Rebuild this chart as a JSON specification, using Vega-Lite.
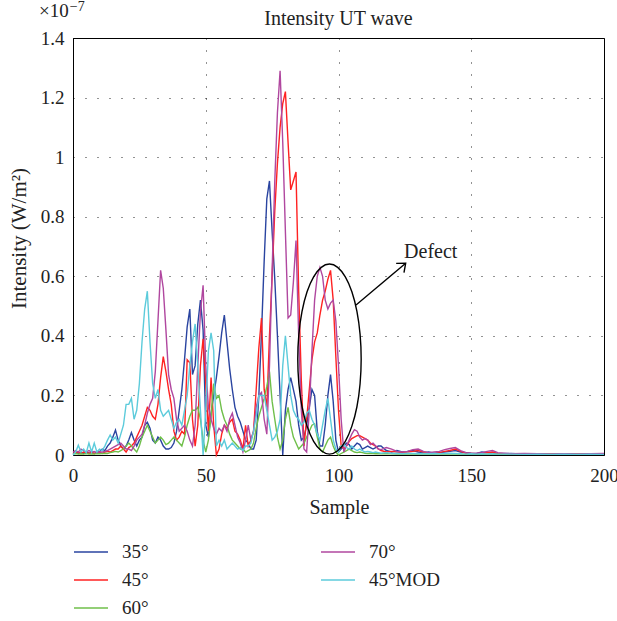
{
"$schema":"https://vega.github.io/schema/vega-lite/v6.json",
"width":531,"height":417,
"autosize":{"type":"none"},
"padding":{"left":73,"top":38,"right":13,"bottom":166},
"background":"white",
"config":{"view":{"stroke":"#000","strokeWidth":1},"font":"Liberation Serif","text":{"font":"Liberation Serif"}},
"title":{"text":"Intensity UT wave","anchor":"middle","frame":"group","offset":0,"dy":45,"baseline":"alphabetic","fontSize":20,"fontWeight":"normal","font":"Liberation Serif","color":"#222"},
"datasets":{
"b":[{"x":0,"y":0.005},{"x":1,"y":0.01},{"x":2,"y":0.005},{"x":3,"y":0.008},{"x":4,"y":0.005},{"x":5,"y":0.01},{"x":6,"y":0.006},{"x":7,"y":0.008},{"x":8,"y":0.005},{"x":9,"y":0.01},{"x":10,"y":0.012},{"x":11,"y":0.02},{"x":12,"y":0.015},{"x":13,"y":0.03},{"x":14,"y":0.04},{"x":15,"y":0.06},{"x":16,"y":0.084},{"x":17,"y":0.05},{"x":18,"y":0.03},{"x":19,"y":0.02},{"x":20,"y":0.03},{"x":21,"y":0.05},{"x":22,"y":0.075},{"x":23,"y":0.05},{"x":24,"y":0.03},{"x":25,"y":0.05},{"x":26,"y":0.06},{"x":27,"y":0.1},{"x":28,"y":0.11},{"x":29,"y":0.09},{"x":30,"y":0.05},{"x":31,"y":0.04},{"x":32,"y":0.06},{"x":33,"y":0.05},{"x":34,"y":0.03},{"x":35,"y":0.02},{"x":36,"y":0.02},{"x":37,"y":0.025},{"x":38,"y":0.04},{"x":39,"y":0.08},{"x":40,"y":0.15},{"x":41,"y":0.22},{"x":42,"y":0.32},{"x":43,"y":0.43},{"x":44,"y":0.49},{"x":45,"y":0.27},{"x":46,"y":0.3},{"x":47,"y":0.44},{"x":48,"y":0.52},{"x":49,"y":0.42},{"x":50,"y":0.1},{"x":51,"y":0.06},{"x":52,"y":0.14},{"x":53,"y":0.2},{"x":54,"y":0.26},{"x":55,"y":0.33},{"x":56,"y":0.41},{"x":57,"y":0.47},{"x":58,"y":0.38},{"x":59,"y":0.29},{"x":60,"y":0.22},{"x":61,"y":0.16},{"x":62,"y":0.13},{"x":63,"y":0.11},{"x":64,"y":0.08},{"x":65,"y":0.05},{"x":66,"y":0.04},{"x":67,"y":0.02},{"x":68,"y":0.02},{"x":69,"y":0.05},{"x":70,"y":0.2},{"x":71,"y":0.41},{"x":72,"y":0.65},{"x":73,"y":0.86},{"x":74,"y":0.92},{"x":75,"y":0.75},{"x":76,"y":0.59},{"x":77,"y":0.4},{"x":78,"y":0.2},{"x":79,"y":0},{"x":80,"y":0.15},{"x":81,"y":0.22},{"x":82,"y":0.26},{"x":83,"y":0.22},{"x":84,"y":0.18},{"x":85,"y":0.1},{"x":86,"y":0.05},{"x":87,"y":0.06},{"x":88,"y":0.1},{"x":89,"y":0.16},{"x":90,"y":0.22},{"x":91,"y":0.2},{"x":92,"y":0.08},{"x":93,"y":0.03},{"x":94,"y":0.03},{"x":95,"y":0.1},{"x":96,"y":0.2},{"x":97,"y":0.27},{"x":98,"y":0.18},{"x":99,"y":0.05},{"x":100,"y":0.01},{"x":101,"y":0.02},{"x":102,"y":0.03},{"x":103,"y":0.04},{"x":104,"y":0.035},{"x":105,"y":0.02},{"x":106,"y":0.03},{"x":107,"y":0.04},{"x":108,"y":0.035},{"x":109,"y":0.02},{"x":110,"y":0.025},{"x":111,"y":0.03},{"x":112,"y":0.025},{"x":113,"y":0.02},{"x":114,"y":0.025},{"x":115,"y":0.03},{"x":116,"y":0.03},{"x":118,"y":0.015},{"x":120,"y":0.01},{"x":122,"y":0.015},{"x":124,"y":0.01},{"x":126,"y":0.012},{"x":128,"y":0.015},{"x":130,"y":0.01},{"x":132,"y":0.008},{"x":134,"y":0.01},{"x":136,"y":0.006},{"x":138,"y":0.008},{"x":140,"y":0.01},{"x":142,"y":0.012},{"x":144,"y":0.015},{"x":146,"y":0.01},{"x":148,"y":0.008},{"x":150,"y":0.006},{"x":152,"y":0.005},{"x":154,"y":0.01},{"x":156,"y":0.008},{"x":158,"y":0.006},{"x":160,"y":0.004},{"x":165,"y":0.005},{"x":170,"y":0.003},{"x":175,"y":0.004},{"x":180,"y":0.003},{"x":185,"y":0.004},{"x":190,"y":0.003},{"x":195,"y":0.004},{"x":200,"y":0.003}],
"r":[{"x":0,"y":0.005},{"x":1,"y":0.01},{"x":2,"y":0.008},{"x":3,"y":0.005},{"x":4,"y":0.01},{"x":5,"y":0.008},{"x":6,"y":0.005},{"x":7,"y":0.01},{"x":8,"y":0.005},{"x":9,"y":0.008},{"x":10,"y":0.01},{"x":11,"y":0.005},{"x":12,"y":0.01},{"x":13,"y":0.012},{"x":14,"y":0.01},{"x":15,"y":0.015},{"x":16,"y":0.02},{"x":17,"y":0.02},{"x":18,"y":0.03},{"x":19,"y":0.02},{"x":20,"y":0.01},{"x":21,"y":0.025},{"x":22,"y":0.03},{"x":23,"y":0.04},{"x":24,"y":0.06},{"x":25,"y":0.08},{"x":26,"y":0.1},{"x":27,"y":0.13},{"x":28,"y":0.16},{"x":29,"y":0.15},{"x":30,"y":0.13},{"x":31,"y":0.12},{"x":32,"y":0.17},{"x":33,"y":0.26},{"x":34,"y":0.33},{"x":35,"y":0.28},{"x":36,"y":0.22},{"x":37,"y":0.17},{"x":38,"y":0.08},{"x":39,"y":0.05},{"x":40,"y":0.06},{"x":41,"y":0.08},{"x":42,"y":0.07},{"x":43,"y":0.32},{"x":44,"y":0.31},{"x":45,"y":0.12},{"x":46,"y":0.03},{"x":47,"y":0.1},{"x":48,"y":0.3},{"x":49,"y":0.39},{"x":50,"y":0.24},{"x":51,"y":0.08},{"x":52,"y":0.26},{"x":53,"y":0.1},{"x":54,"y":0},{"x":55,"y":0.02},{"x":56,"y":0.07},{"x":57,"y":0.1},{"x":58,"y":0.09},{"x":59,"y":0.11},{"x":60,"y":0.12},{"x":61,"y":0.08},{"x":62,"y":0.07},{"x":63,"y":0.05},{"x":64,"y":0.02},{"x":65,"y":0.1},{"x":66,"y":0.03},{"x":67,"y":0.05},{"x":68,"y":0.08},{"x":69,"y":0.22},{"x":70,"y":0.36},{"x":71,"y":0.46},{"x":72,"y":0.22},{"x":73,"y":0.16},{"x":74,"y":0.4},{"x":75,"y":0.6},{"x":76,"y":0.82},{"x":77,"y":0.98},{"x":78,"y":1.1},{"x":79,"y":1.18},{"x":80,"y":1.22},{"x":81,"y":1.05},{"x":82,"y":0.89},{"x":83,"y":0.92},{"x":84,"y":0.95},{"x":85,"y":0.55},{"x":86,"y":0.25},{"x":87,"y":0.03},{"x":88,"y":0.12},{"x":89,"y":0.22},{"x":90,"y":0.32},{"x":91,"y":0.38},{"x":92,"y":0.41},{"x":93,"y":0.47},{"x":94,"y":0.52},{"x":95,"y":0.55},{"x":96,"y":0.59},{"x":97,"y":0.62},{"x":98,"y":0.52},{"x":99,"y":0.33},{"x":100,"y":0.15},{"x":101,"y":0.03},{"x":102,"y":0.02},{"x":103,"y":0.03},{"x":104,"y":0.045},{"x":105,"y":0.055},{"x":106,"y":0.06},{"x":107,"y":0.065},{"x":108,"y":0.065},{"x":109,"y":0.06},{"x":110,"y":0.055},{"x":111,"y":0.05},{"x":112,"y":0.04},{"x":113,"y":0.035},{"x":114,"y":0.03},{"x":115,"y":0.02},{"x":116,"y":0.015},{"x":118,"y":0.01},{"x":120,"y":0.012},{"x":122,"y":0.01},{"x":124,"y":0.008},{"x":126,"y":0.01},{"x":128,"y":0.012},{"x":130,"y":0.015},{"x":132,"y":0.01},{"x":134,"y":0.006},{"x":136,"y":0.005},{"x":138,"y":0.008},{"x":140,"y":0.012},{"x":142,"y":0.015},{"x":144,"y":0.02},{"x":146,"y":0.012},{"x":148,"y":0.006},{"x":150,"y":0.005},{"x":152,"y":0.004},{"x":154,"y":0.006},{"x":156,"y":0.008},{"x":158,"y":0.01},{"x":160,"y":0.005},{"x":165,"y":0.003},{"x":170,"y":0.003},{"x":175,"y":0.002},{"x":180,"y":0.003},{"x":185,"y":0.002},{"x":190,"y":0.003},{"x":195,"y":0.002},{"x":200,"y":0.002}],
"g":[{"x":0,"y":0.003},{"x":1,"y":0.005},{"x":2,"y":0.003},{"x":3,"y":0.004},{"x":4,"y":0.003},{"x":5,"y":0.005},{"x":6,"y":0.003},{"x":7,"y":0.004},{"x":8,"y":0.003},{"x":9,"y":0.005},{"x":10,"y":0.004},{"x":11,"y":0.005},{"x":12,"y":0.006},{"x":13,"y":0.005},{"x":14,"y":0.008},{"x":15,"y":0.01},{"x":16,"y":0.012},{"x":17,"y":0.01},{"x":18,"y":0.015},{"x":19,"y":0.02},{"x":20,"y":0.03},{"x":21,"y":0.04},{"x":22,"y":0.03},{"x":23,"y":0.02},{"x":24,"y":0.01},{"x":25,"y":0.03},{"x":26,"y":0.06},{"x":27,"y":0.08},{"x":28,"y":0.1},{"x":29,"y":0.08},{"x":30,"y":0.06},{"x":31,"y":0.04},{"x":32,"y":0.05},{"x":33,"y":0.06},{"x":34,"y":0.05},{"x":35,"y":0.035},{"x":36,"y":0.04},{"x":37,"y":0.05},{"x":38,"y":0.06},{"x":39,"y":0.05},{"x":40,"y":0.04},{"x":41,"y":0.03},{"x":42,"y":0.06},{"x":43,"y":0.1},{"x":44,"y":0.13},{"x":45,"y":0.15},{"x":46,"y":0.15},{"x":47,"y":0.16},{"x":48,"y":0.12},{"x":49,"y":0.05},{"x":50,"y":0.01},{"x":51,"y":0.05},{"x":52,"y":0.13},{"x":53,"y":0.24},{"x":54,"y":0.19},{"x":55,"y":0.2},{"x":56,"y":0.15},{"x":57,"y":0.12},{"x":58,"y":0.1},{"x":59,"y":0.07},{"x":60,"y":0.05},{"x":61,"y":0.04},{"x":62,"y":0.03},{"x":63,"y":0.02},{"x":64,"y":0.02},{"x":65,"y":0.01},{"x":66,"y":0.015},{"x":67,"y":0.02},{"x":68,"y":0.04},{"x":69,"y":0.09},{"x":70,"y":0.13},{"x":71,"y":0.16},{"x":72,"y":0.19},{"x":73,"y":0.23},{"x":74,"y":0.28},{"x":75,"y":0.18},{"x":76,"y":0.12},{"x":77,"y":0.06},{"x":78,"y":0.02},{"x":79,"y":0.05},{"x":80,"y":0.12},{"x":81,"y":0.16},{"x":82,"y":0.1},{"x":83,"y":0.06},{"x":84,"y":0.04},{"x":85,"y":0.02},{"x":86,"y":0.03},{"x":87,"y":0.04},{"x":88,"y":0.06},{"x":89,"y":0.08},{"x":90,"y":0.1},{"x":91,"y":0.105},{"x":92,"y":0.06},{"x":93,"y":0.02},{"x":94,"y":0.01},{"x":95,"y":0.03},{"x":96,"y":0.05},{"x":97,"y":0.06},{"x":98,"y":0.03},{"x":99,"y":0.01},{"x":100,"y":0},{"x":101,"y":0.005},{"x":102,"y":0.01},{"x":103,"y":0.015},{"x":104,"y":0.02},{"x":105,"y":0.015},{"x":106,"y":0.01},{"x":107,"y":0.008},{"x":108,"y":0.01},{"x":109,"y":0.008},{"x":110,"y":0.006},{"x":111,"y":0.005},{"x":112,"y":0.006},{"x":113,"y":0.005},{"x":114,"y":0.004},{"x":115,"y":0.004},{"x":116,"y":0.004},{"x":118,"y":0.005},{"x":120,"y":0.004},{"x":122,"y":0.003},{"x":124,"y":0.004},{"x":126,"y":0.003},{"x":128,"y":0.004},{"x":130,"y":0.003},{"x":132,"y":0.004},{"x":134,"y":0.003},{"x":136,"y":0.003},{"x":138,"y":0.004},{"x":140,"y":0.003},{"x":142,"y":0.004},{"x":144,"y":0.003},{"x":146,"y":0.003},{"x":148,"y":0.002},{"x":150,"y":0.003},{"x":152,"y":0.002},{"x":154,"y":0.003},{"x":156,"y":0.002},{"x":158,"y":0.003},{"x":160,"y":0.002},{"x":165,"y":0.002},{"x":170,"y":0.002},{"x":175,"y":0.002},{"x":180,"y":0.002},{"x":185,"y":0.002},{"x":190,"y":0.002},{"x":195,"y":0.002},{"x":200,"y":0.002}],
"m":[{"x":0,"y":0.01},{"x":1,"y":0.015},{"x":2,"y":0.01},{"x":3,"y":0.02},{"x":4,"y":0.015},{"x":5,"y":0.01},{"x":6,"y":0.015},{"x":7,"y":0.01},{"x":8,"y":0.012},{"x":9,"y":0.008},{"x":10,"y":0.01},{"x":11,"y":0.01},{"x":12,"y":0.012},{"x":13,"y":0.015},{"x":14,"y":0.02},{"x":15,"y":0.025},{"x":16,"y":0.03},{"x":17,"y":0.035},{"x":18,"y":0.04},{"x":19,"y":0.03},{"x":20,"y":0.02},{"x":21,"y":0.02},{"x":22,"y":0.015},{"x":23,"y":0.03},{"x":24,"y":0.05},{"x":25,"y":0.06},{"x":26,"y":0.07},{"x":27,"y":0.1},{"x":28,"y":0.14},{"x":29,"y":0.17},{"x":30,"y":0.19},{"x":31,"y":0.28},{"x":32,"y":0.45},{"x":33,"y":0.62},{"x":34,"y":0.56},{"x":35,"y":0.42},{"x":36,"y":0.27},{"x":37,"y":0.22},{"x":38,"y":0.19},{"x":39,"y":0.12},{"x":40,"y":0.08},{"x":41,"y":0.09},{"x":42,"y":0.1},{"x":43,"y":0.08},{"x":44,"y":0.05},{"x":45,"y":0.03},{"x":46,"y":0.1},{"x":47,"y":0.3},{"x":48,"y":0.48},{"x":49,"y":0.57},{"x":50,"y":0.3},{"x":51,"y":0.16},{"x":52,"y":0.12},{"x":53,"y":0.09},{"x":54,"y":0.07},{"x":55,"y":0.09},{"x":56,"y":0.08},{"x":57,"y":0.1},{"x":58,"y":0.08},{"x":59,"y":0.12},{"x":60,"y":0.14},{"x":61,"y":0.1},{"x":62,"y":0.06},{"x":63,"y":0.04},{"x":64,"y":0.01},{"x":65,"y":0.05},{"x":66,"y":0.1},{"x":67,"y":0.05},{"x":68,"y":0.08},{"x":69,"y":0.16},{"x":70,"y":0.2},{"x":71,"y":0.21},{"x":72,"y":0.12},{"x":73,"y":0.07},{"x":74,"y":0.3},{"x":75,"y":0.62},{"x":76,"y":0.92},{"x":77,"y":1.15},{"x":78,"y":1.29},{"x":79,"y":1.05},{"x":80,"y":0.75},{"x":81,"y":0.46},{"x":82,"y":0.47},{"x":83,"y":0.58},{"x":84,"y":0.72},{"x":85,"y":0.4},{"x":86,"y":0.15},{"x":87,"y":0.02},{"x":88,"y":0.01},{"x":89,"y":0.15},{"x":90,"y":0.35},{"x":91,"y":0.52},{"x":92,"y":0.6},{"x":93,"y":0.63},{"x":94,"y":0.6},{"x":95,"y":0.52},{"x":96,"y":0.49},{"x":97,"y":0.51},{"x":98,"y":0.52},{"x":99,"y":0.45},{"x":100,"y":0.3},{"x":101,"y":0.12},{"x":102,"y":0.01},{"x":103,"y":0.03},{"x":104,"y":0.05},{"x":105,"y":0.07},{"x":106,"y":0.085},{"x":107,"y":0.08},{"x":108,"y":0.06},{"x":109,"y":0.05},{"x":110,"y":0.055},{"x":111,"y":0.05},{"x":112,"y":0.035},{"x":113,"y":0.04},{"x":114,"y":0.03},{"x":115,"y":0.02},{"x":116,"y":0.018},{"x":118,"y":0.025},{"x":120,"y":0.02},{"x":122,"y":0.012},{"x":124,"y":0.01},{"x":126,"y":0.012},{"x":128,"y":0.018},{"x":130,"y":0.02},{"x":132,"y":0.012},{"x":134,"y":0.008},{"x":136,"y":0.01},{"x":138,"y":0.012},{"x":140,"y":0.018},{"x":142,"y":0.022},{"x":144,"y":0.025},{"x":146,"y":0.015},{"x":148,"y":0.008},{"x":150,"y":0.005},{"x":152,"y":0.006},{"x":154,"y":0.008},{"x":156,"y":0.012},{"x":158,"y":0.015},{"x":160,"y":0.008},{"x":165,"y":0.004},{"x":170,"y":0.005},{"x":175,"y":0.004},{"x":180,"y":0.003},{"x":185,"y":0.004},{"x":190,"y":0.003},{"x":195,"y":0.004},{"x":200,"y":0.005}],
"c":[{"x":0,"y":0},{"x":1,"y":0.01},{"x":2,"y":0.033},{"x":3,"y":0.01},{"x":4,"y":0.02},{"x":5,"y":0.008},{"x":6,"y":0.04},{"x":7,"y":0.01},{"x":8,"y":0.04},{"x":9,"y":0.01},{"x":10,"y":0.02},{"x":11,"y":0.015},{"x":12,"y":0.03},{"x":13,"y":0.05},{"x":14,"y":0.067},{"x":15,"y":0.05},{"x":16,"y":0.06},{"x":17,"y":0.04},{"x":18,"y":0.07},{"x":19,"y":0.1},{"x":20,"y":0.17},{"x":21,"y":0.17},{"x":22,"y":0.19},{"x":23,"y":0.12},{"x":24,"y":0.15},{"x":25,"y":0.24},{"x":26,"y":0.38},{"x":27,"y":0.49},{"x":28,"y":0.55},{"x":29,"y":0.38},{"x":30,"y":0.24},{"x":31,"y":0.19},{"x":32,"y":0.22},{"x":33,"y":0.15},{"x":34,"y":0.13},{"x":35,"y":0.14},{"x":36,"y":0.15},{"x":37,"y":0.12},{"x":38,"y":0.09},{"x":39,"y":0.11},{"x":40,"y":0.12},{"x":41,"y":0.1},{"x":42,"y":0.15},{"x":43,"y":0.2},{"x":44,"y":0.3},{"x":45,"y":0.38},{"x":46,"y":0.44},{"x":47,"y":0.3},{"x":48,"y":0.15},{"x":49,"y":0},{"x":50,"y":0.15},{"x":51,"y":0.35},{"x":52,"y":0.41},{"x":53,"y":0.35},{"x":54,"y":0.03},{"x":55,"y":0.05},{"x":56,"y":0.03},{"x":57,"y":0.05},{"x":58,"y":0.02},{"x":59,"y":0.03},{"x":60,"y":0.04},{"x":61,"y":0.03},{"x":62,"y":0.02},{"x":63,"y":0.025},{"x":64,"y":0.015},{"x":65,"y":0.03},{"x":66,"y":0.03},{"x":67,"y":0.04},{"x":68,"y":0.08},{"x":69,"y":0.13},{"x":70,"y":0.2},{"x":71,"y":0.2},{"x":72,"y":0.2},{"x":73,"y":0.15},{"x":74,"y":0.1},{"x":75,"y":0.05},{"x":76,"y":0.06},{"x":77,"y":0.08},{"x":78,"y":0.12},{"x":79,"y":0.3},{"x":80,"y":0.4},{"x":81,"y":0.3},{"x":82,"y":0.2},{"x":83,"y":0.15},{"x":84,"y":0.13},{"x":85,"y":0.12},{"x":86,"y":0.1},{"x":87,"y":0.11},{"x":88,"y":0.14},{"x":89,"y":0.15},{"x":90,"y":0.12},{"x":91,"y":0.1},{"x":92,"y":0.07},{"x":93,"y":0.05},{"x":94,"y":0.1},{"x":95,"y":0.15},{"x":96,"y":0.19},{"x":97,"y":0.12},{"x":98,"y":0.05},{"x":99,"y":0.02},{"x":100,"y":0.01},{"x":101,"y":0.03},{"x":102,"y":0.035},{"x":103,"y":0.025},{"x":104,"y":0.02},{"x":105,"y":0.03},{"x":106,"y":0.02},{"x":107,"y":0.015},{"x":108,"y":0.02},{"x":109,"y":0.015},{"x":110,"y":0.01},{"x":111,"y":0.012},{"x":112,"y":0.01},{"x":113,"y":0.008},{"x":114,"y":0.01},{"x":115,"y":0.008},{"x":116,"y":0.006},{"x":118,"y":0.008},{"x":120,"y":0.005},{"x":122,"y":0.006},{"x":124,"y":0.004},{"x":126,"y":0.006},{"x":128,"y":0.005},{"x":130,"y":0.004},{"x":132,"y":0.005},{"x":134,"y":0.004},{"x":136,"y":0.005},{"x":138,"y":0.004},{"x":140,"y":0.005},{"x":142,"y":0.006},{"x":144,"y":0.005},{"x":146,"y":0.004},{"x":148,"y":0.003},{"x":150,"y":0.004},{"x":152,"y":0.003},{"x":154,"y":0.004},{"x":156,"y":0.003},{"x":158,"y":0.004},{"x":160,"y":0.003},{"x":165,"y":0.003},{"x":170,"y":0.002},{"x":175,"y":0.003},{"x":180,"y":0.002},{"x":185,"y":0.003},{"x":190,"y":0.002},{"x":195,"y":0.003},{"x":200,"y":0.002}],
"ell":[{"o":0,"x":108.54,"y":0.322},{"o":1,"x":108.13,"y":0.405},{"o":2,"x":106.94,"y":0.482},{"o":3,"x":105.04,"y":0.548},{"o":4,"x":102.57,"y":0.598},{"o":5,"x":99.69,"y":0.63},{"o":6,"x":96.6,"y":0.641},{"o":7,"x":93.51,"y":0.63},{"o":8,"x":90.63,"y":0.598},{"o":9,"x":88.16,"y":0.548},{"o":10,"x":86.26,"y":0.482},{"o":11,"x":85.07,"y":0.405},{"o":12,"x":84.66,"y":0.322},{"o":13,"x":85.07,"y":0.239},{"o":14,"x":86.26,"y":0.162},{"o":15,"x":88.16,"y":0.097},{"o":16,"x":90.63,"y":0.046},{"o":17,"x":93.51,"y":0.014},{"o":18,"x":96.6,"y":0.003},{"o":19,"x":99.69,"y":0.014},{"o":20,"x":102.57,"y":0.046},{"o":21,"x":105.04,"y":0.097},{"o":22,"x":106.94,"y":0.162},{"o":23,"x":108.13,"y":0.239}],
"arr":[{"o":0,"x":106.6,"y":0.5035},{"o":1,"x":125.3,"y":0.6435}],
"head":[{"x":125.3,"y":0.6435}],
"lab":[{"x":124.7,"y":0.661,"t":"Defect"}],
"exp":[{"x":-12.8,"y":1.472,"t":"×10"}],
"exp2":[{"x":-1.2,"y":1.49,"t":"−7"}]
},
"encoding":{
  "x":{"field":"x","type":"quantitative","scale":{"domain":[0,200],"nice":false,"zero":false},
   "axis":{"orient":"bottom","values":[0,50,100,150,200],"format":"d","labelFlush":false,"title":"Sample","titleX":266,"titleY":58,"titleBaseline":"alphabetic","titleAlign":"center","titleFont":"Liberation Serif","titleFontSize":20,"titleFontWeight":"normal","titleColor":"#222","labelFont":"Liberation Serif","labelFontSize":19,"labelColor":"#222","labelPadding":11,"ticks":false,"domainColor":"#000","domainWidth":1,"grid":true,"gridColor":"#000","gridDash":[1,11],"gridWidth":1,"gridOpacity":0.85}},
  "y":{"field":"y","type":"quantitative","scale":{"domain":[0,1.4],"nice":false,"zero":false},
   "axis":{"orient":"left","values":[0,0.2,0.4,0.6,0.8,1,1.2,1.4],"format":"~g","title":"Intensity (W/m²)","titleX":-48,"titleY":200,"titleAngle":-90,"titleBaseline":"alphabetic","titleAlign":"center","titleFont":"Liberation Serif","titleFontSize":21,"titleFontWeight":"normal","titleColor":"#222","labelFont":"Liberation Serif","labelFontSize":19,"labelColor":"#222","labelPadding":9,"ticks":false,"domainColor":"#000","domainWidth":1,"grid":true,"gridColor":"#000","gridDash":[1,11],"gridWidth":1,"gridOpacity":0.85}}
},
"layer":[
{"data":{"name":"b"},"mark":{"type":"line","strokeWidth":1.4},
 "encoding":{
  "color":{"datum":"35°","type":"nominal",
   "scale":{"domain":["35°","70°","45°","45°MOD","60°"],"range":["#2a44a0","#b0479f","#ff2222","#5ccbdb","#6fbf4a"]},
   "legend":{"orient":"none","legendX":0,"legendY":496,"direction":"horizontal","columns":2,"columnPadding":169,"rowPadding":-7,"symbolType":"stroke","symbolSize":1156,"symbolStrokeWidth":1.5,"labelFont":"Liberation Serif","labelFontSize":19,"labelOffset":13,"labelColor":"#222","title":null,"padding":0}}}},
{"data":{"name":"r"},"mark":{"type":"line","strokeWidth":1.4},"encoding":{"color":{"datum":"45°","type":"nominal"}}},
{"data":{"name":"g"},"mark":{"type":"line","strokeWidth":1.4},"encoding":{"color":{"datum":"60°","type":"nominal"}}},
{"data":{"name":"m"},"mark":{"type":"line","strokeWidth":1.4},"encoding":{"color":{"datum":"70°","type":"nominal"}}},
{"data":{"name":"c"},"mark":{"type":"line","strokeWidth":1.4},"encoding":{"color":{"datum":"45°MOD","type":"nominal"}}},
{"data":{"name":"ell"},"mark":{"type":"line","interpolate":"cardinal-closed","color":"#000","strokeWidth":1.4},"encoding":{"order":{"field":"o"}}},
{"data":{"name":"arr"},"mark":{"type":"line","color":"#000","strokeWidth":1.4},"encoding":{"order":{"field":"o"}}},
{"data":{"name":"head"},"mark":{"type":"point","shape":"M-0.64,0.77L0,0L0.64,0.77","angle":50,"size":361,"filled":false,"stroke":"#000","strokeWidth":1.4,"opacity":1},"encoding":{}},
{"data":{"name":"lab"},"mark":{"type":"text","align":"left","baseline":"alphabetic","font":"Liberation Serif","fontSize":20,"color":"#222"},"encoding":{"text":{"field":"t"}}},
{"data":{"name":"exp"},"mark":{"type":"text","align":"left","baseline":"alphabetic","font":"Liberation Serif","fontSize":19,"color":"#222","clip":false},"encoding":{"text":{"field":"t"}}},
{"data":{"name":"exp2"},"mark":{"type":"text","align":"left","baseline":"alphabetic","font":"Liberation Serif","fontSize":14,"color":"#222","clip":false},"encoding":{"text":{"field":"t"}}}
]
}
